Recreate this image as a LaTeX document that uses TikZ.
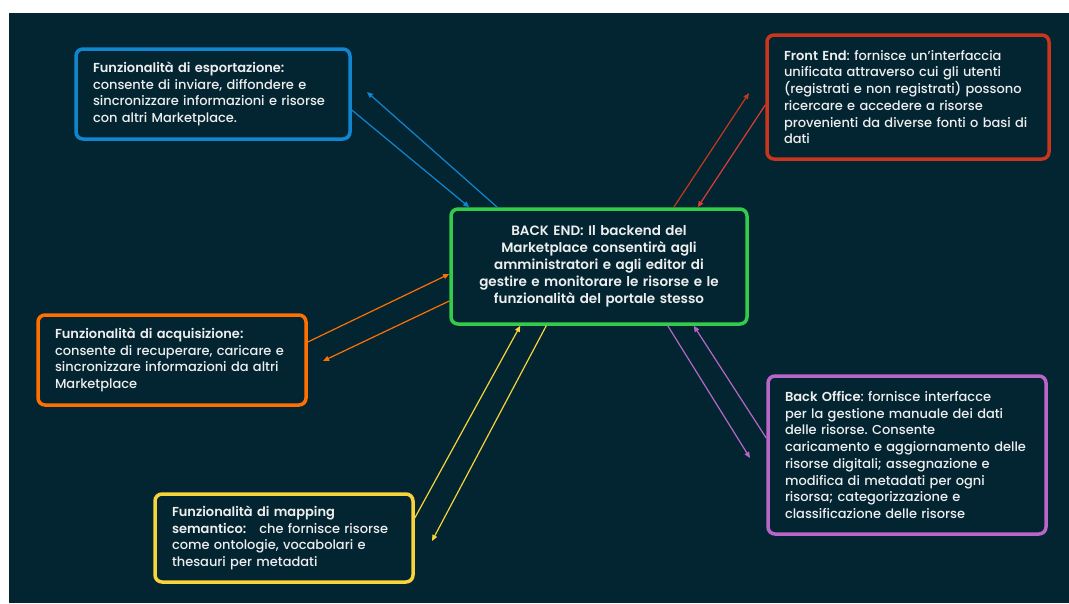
\documentclass[tikz,border=0pt]{standalone}
\usepackage{fontspec}
\setmainfont{Poppins}[UprightFont=* Medium, BoldFont=* SemiBold]
\usetikzlibrary{arrows.meta}
\frenchspacing
\definecolor{bg}{RGB}{3,37,50}
\definecolor{txt}{RGB}{238,238,238}
\definecolor{cblue}{RGB}{17,134,208}
\definecolor{cred}{RGB}{200,54,27}
\definecolor{cred2}{RGB}{224,58,53}
\definecolor{corange}{RGB}{255,112,0}
\definecolor{cyellow}{RGB}{247,212,58}
\definecolor{cpurple}{RGB}{184,102,200}
\definecolor{cgreen}{RGB}{51,204,74}
\tikzset{
  box/.style={draw=#1, line width=3.5pt, rounded corners=7pt, text=txt,
    inner xsep=17pt, inner ysep=0pt, align=left,
    font=\fontsize{13}{16.7}\selectfont\frenchspacing},
  conn/.style={draw=#1, line width=1.2pt, -{Triangle[length=6pt,width=5pt]}}
}
\begin{document}
\begin{tikzpicture}[x=1pt,y=-1pt]
\useasboundingbox (0,0) rectangle (1069,603);
\fill[white] (0,0) rectangle (1069,603);
\fill[bg] (9,13) rectangle (1069,603);

\node[box=cgreen, minimum width=296pt, minimum height=115pt, text width=280pt,
  inner xsep=8pt, align=center, font=\fontsize{13.5}{16.9}\selectfont\bfseries\frenchspacing] (green) at (599,266.5)
  {BACK END: Il backend del\\ Marketplace consentirà agli\\ amministratori e agli editor di\\ gestire e monitorare le risorse e le\\ funzionalità del portale stesso};

\node[box=cblue, minimum width=274pt, minimum height=90pt, text width=240pt] (blue) at (213,94)
  {\textbf{Funzionalità di esportazione:}\\ consente di inviare, diffondere e\\ sincronizzare informazioni e risorse\\ con altri Marketplace.};

\node[box=cred, minimum width=282pt, minimum height=124pt, text width=248pt] (red) at (908,97)
  {\textbf{Front End}: fornisce un'interfaccia\\ unificata attraverso cui gli utenti\\ (registrati e non registrati) possono\\ ricercare e accedere a risorse\\ provenienti da diverse fonti o basi di\\ dati};

\node[box=corange, minimum width=268pt, minimum height=90pt, text width=234pt] (orange) at (172,360)
  {\textbf{Funzionalità di acquisizione:}\\ consente di recuperare, caricare e\\ sincronizzare informazioni da altri\\ Marketplace};

\node[box=cyellow, minimum width=258pt, minimum height=88pt, text width=224pt] (yellow) at (284,538)
  {\textbf{Funzionalità di mapping}\\ \textbf{semantico:}\quad che fornisce risorse\\ come ontologie, vocabolari e\\ thesauri per metadati};

\node[box=cpurple, minimum width=278pt, minimum height=158pt, text width=244pt] (purple) at (907,455)
  {\textbf{Back Office}: fornisce interfacce\\ per la gestione manuale dei dati\\ delle risorse. Consente\\ caricamento e aggiornamento delle\\ risorse digitali; assegnazione e\\ modifica di metadati per ogni\\ risorsa; categorizzazione e\\ classificazione delle risorse};

\coordinate (fb) at (367,92);
\coordinate (fr) at (749,93);
\coordinate (fo) at (323,361);
\coordinate (fy) at (432,541);
\coordinate (fp) at (750,458);

\draw[conn=cblue] ([yshift=-16pt]blue.east) -- ([xshift=20pt]green.north west);
\draw[conn=cblue] ([xshift=48pt]green.north west) -- (fb);
\draw[conn=cred] ([xshift=-75pt]green.north east) -- (fr);
\draw[conn=cred2] ([yshift=-8pt]red.west) -- ([xshift=-51pt]green.north east);
\draw[conn=corange] ([yshift=18pt]orange.east) -- ([yshift=-7.5pt]green.west);
\draw[conn=corange] ([yshift=-34.5pt]green.west) -- (fo);
\draw[conn=cyellow] ([yshift=20pt]yellow.east) -- ([xshift=71pt]green.south west);
\draw[conn=cyellow] ([xshift=97pt]green.south west) -- (fy);
\draw[conn=cpurple] ([xshift=-81pt]green.south east) -- (fp);
\draw[conn=cpurple] ([yshift=17pt]purple.west) -- ([xshift=-55pt]green.south east);
\end{tikzpicture}
\end{document}
